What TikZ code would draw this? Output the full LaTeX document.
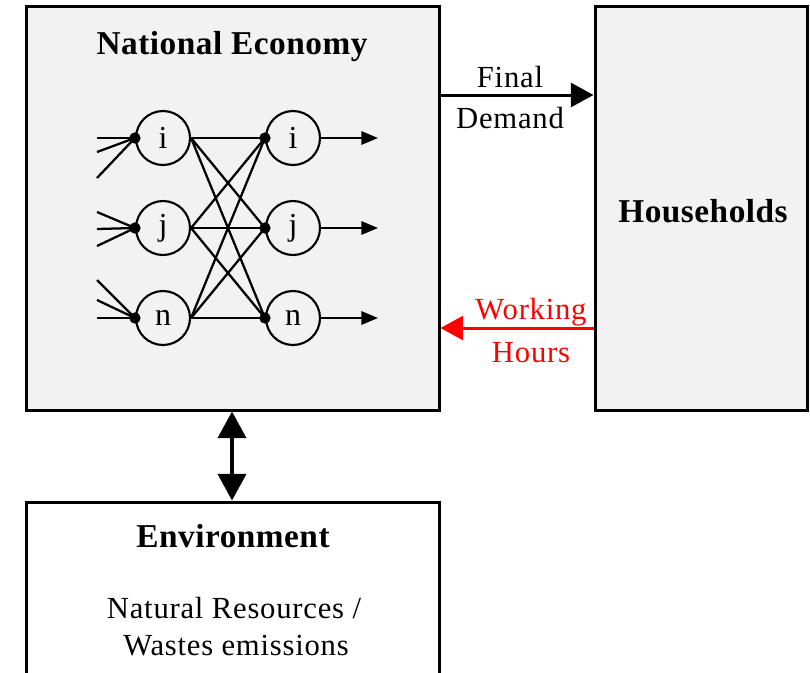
\documentclass[tikz,border=0pt]{standalone}
\usepackage{fontspec}
\setmainfont{Liberation Serif}
\usetikzlibrary{arrows.meta}
\begin{document}
\begin{tikzpicture}[x=0.75pt,y=-0.75pt,
  box/.style={draw=black,line width=2.25pt,rectangle,inner sep=0pt},
  graybox/.style={box,fill=boxgray},
  title/.style={font=\fontsize{25}{30}\selectfont\bfseries\addfontfeatures{LetterSpace=1.5}},
  label/.style={font=\fontsize{23}{28}\selectfont\addfontfeatures{LetterSpace=2.5}},
  sector/.style={draw=black,line width=1.6pt,circle,minimum size=40.5pt,inner sep=0pt,font=\fontsize{24}{28}\selectfont},
  dot/.style={fill=black,circle,minimum size=8.5pt,inner sep=0pt},
  link/.style={line width=1.7pt},
  outarrow/.style={line width=1.6pt,-{Triangle[length=12.5pt,width=10pt]}},
  flow/.style={line width=2.25pt,-{Triangle[length=17pt,width=18pt]}},
  exchange/.style={line width=3pt,{Triangle[length=20pt,width=21pt]}-{Triangle[length=20pt,width=21pt]}}
]
\definecolor{boxgray}{HTML}{F2F2F2}
\definecolor{hoursred}{HTML}{FF0000}
\useasboundingbox (0,0) rectangle (810,672);
\clip (0,0) rectangle (810,672);

% main blocks
\node[graybox,minimum width={413*0.75pt},minimum height={404*0.75pt}] (nat) at (232.5,208) {};
\node[graybox,minimum width={212*0.75pt},minimum height={404*0.75pt}] (hh) at (701,208) {};
\node[box,fill=white,minimum width={413*0.75pt},minimum height={200*0.75pt}] (env) at (232.5,602) {};

% block titles and texts
\node[title] (natT) at (232,47) {National Economy};
\node[title] (hhT) at (703,211) {Households};
\node[title] (envT) at (233,536) {Environment};
\node[label] (envA) at (234,608) {Natural Resources /};
\node[label] (envB) at (236,646) {Wastes emissions};

% sectors: supplying (left) and using (right)
\foreach \n/\t/\y in {i/i/138, j/j/228, n/n/318}{
  \node[sector] (L\n) at (163,\y) {\t};
  \node[sector] (R\n) at (293,\y) {\t};
  \coordinate (dL\n) at (L\n.west);
  \coordinate (dR\n) at (R\n.west);
  \coordinate (o\n) at (378,\y);
  \draw[outarrow] (R\n.east) -- (o\n);
}

% inputs to the supplying sectors
\coordinate (ai) at (97,138); \coordinate (bi) at (97,152); \coordinate (ci) at (97,178);
\coordinate (aj) at (97,212); \coordinate (bj) at (97,229); \coordinate (cj) at (97,246);
\coordinate (an) at (97,280); \coordinate (bn) at (97,300); \coordinate (cn) at (97,318);
\foreach \n in {i,j,n}{
  \foreach \s in {a,b,c}{
    \draw[link] (\s\n) -- (dL\n);
  }
}

% inter-sector flows
\foreach \a in {i,j,n}{
  \foreach \b in {i,j,n}{
    \draw[link] (L\a.east) -- (dR\b);
  }
}
\foreach \n in {i,j,n}{
  \node[dot] (pL\n) at (dL\n) {};
  \node[dot] (pR\n) at (dR\n) {};
}

% exchanges with households
\draw[flow] (nat.east |- 0,95) -- (hh.west |- 0,95);
\node[label] (fd1) at (510,77) {Final};
\node[label] (fd2) at (510,118) {Demand};
\draw[flow,draw=hoursred,fill=hoursred] (hh.west |- 0,328) -- (nat.east |- 0,328);
\node[label,text=hoursred] (wh1) at (531,312) {Working};
\node[label,text=hoursred] (wh2) at (531,353) {Hours};

% exchange with the environment
\draw[exchange] (nat.south -| 232,0) -- (env.north -| 232,0);
\end{tikzpicture}
\end{document}
